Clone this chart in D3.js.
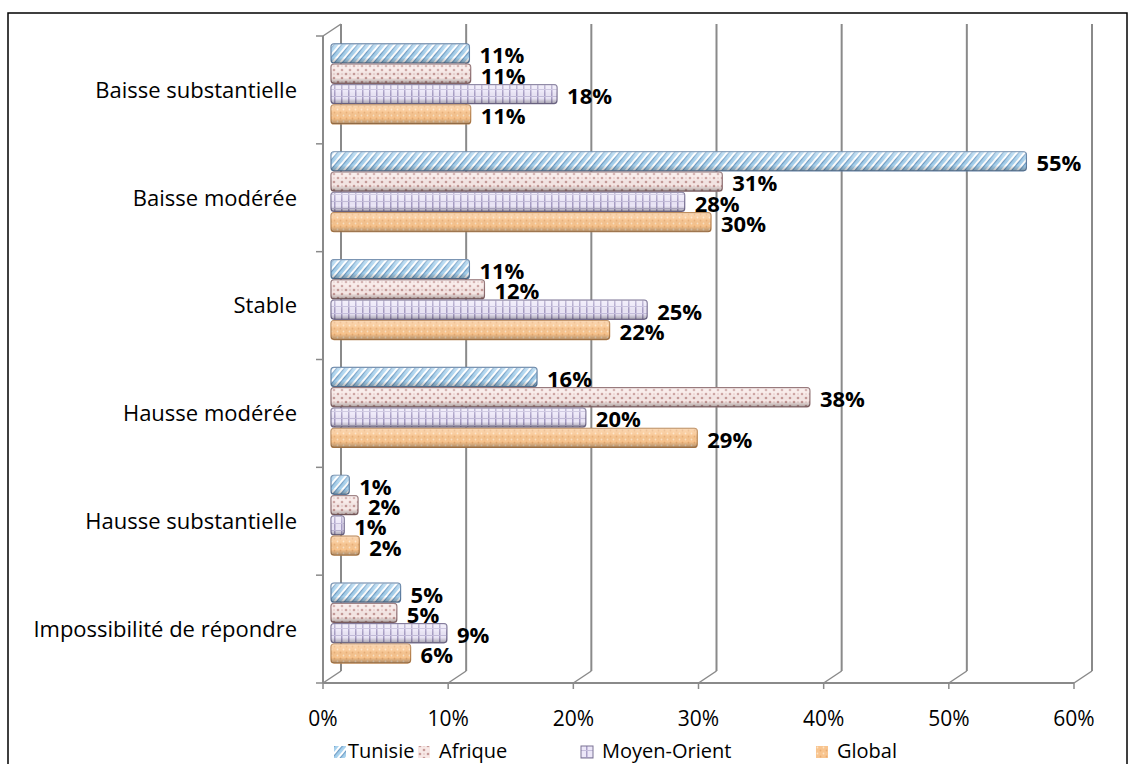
<!DOCTYPE html>
<html>
<head>
<meta charset="utf-8">
<script src="https://cdn.jsdelivr.net/npm/d3@7"></script>
<style>
  body { margin: 0; background: #fff; }
  svg { display: block; font-family: "Open Sans", sans-serif; }
</style>
</head>
<body>
<div id="chart"></div>
<script>
// donnees (en %)
var categories = ["Baisse substantielle", "Baisse modérée", "Stable", "Hausse modérée", "Hausse substantielle", "Impossibilité de répondre"]
var series = ["Tunisie", "Afrique", "Moyen-Orient", "Global"]
var tunisie = [10.9, 55.4, 10.9, 16.3, 1.3, 5.4]
var afrique = [11.0, 31.1, 12.1, 38.1, 2.0, 5.1]
var moyenOrient = [17.9, 28.1, 25.1, 20.2, 0.9, 9.1]
var global = [11.0, 30.2, 22.1, 29.1, 2.1, 6.2]
var ticks = [0, 10, 20, 30, 40, 50, 60]

var valeurs = [tunisie, afrique, moyenOrient, global]

var width = 1130, height = 764
var svg = d3.select("#chart").append("svg")
    .attr("width", width)
    .attr("height", height)

// cadre exterieur
svg.append("rect")
    .attr("x", 8).attr("y", 13)
    .attr("width", 1119).attr("height", 780)
    .attr("fill", "none").attr("stroke", "#000").attr("stroke-width", 1.5)

var x = d3.scaleLinear().domain([0, 60]).range([323, 1074])
var y = d3.scaleBand().domain(categories).range([36, 683])
var dx = 18, dy = -12   // profondeur 3D

var defs = svg.append("defs")

// motifs des series
var pT = defs.append("pattern").attr("id", "pat0").attr("patternUnits", "userSpaceOnUse")
    .attr("width", 6).attr("height", 6).attr("patternTransform", "rotate(40)")
pT.append("rect").attr("width", 6).attr("height", 6).attr("fill", "#a8d2ee")
pT.append("rect").attr("width", 2).attr("height", 6).attr("fill", "#ffffff")
pT.append("rect").attr("x", 2).attr("width", 1.2).attr("height", 6).attr("fill", "#6f9cc4")

var pA = defs.append("pattern").attr("id", "pat1").attr("patternUnits", "userSpaceOnUse")
    .attr("width", 8).attr("height", 8)
pA.append("rect").attr("width", 8).attr("height", 8).attr("fill", "#f7e8e6")
pA.append("circle").attr("cx", 2).attr("cy", 2).attr("r", 1.3).attr("fill", "#c79a98")
pA.append("circle").attr("cx", 6).attr("cy", 6).attr("r", 1.3).attr("fill", "#c79a98")
pA.append("circle").attr("cx", 6).attr("cy", 2).attr("r", 0.8).attr("fill", "#ddbbb9")

var pM = defs.append("pattern").attr("id", "pat2").attr("patternUnits", "userSpaceOnUse")
    .attr("width", 7).attr("height", 7)
pM.append("rect").attr("width", 7).attr("height", 7).attr("fill", "#ece7f8")
pM.append("rect").attr("x", 5).attr("width", 1.5).attr("height", 7).attr("fill", "#a89ec6")
pM.append("rect").attr("y", 5).attr("width", 7).attr("height", 1).attr("fill", "#c4bddb")

var pG = defs.append("pattern").attr("id", "pat3").attr("patternUnits", "userSpaceOnUse")
    .attr("width", 6).attr("height", 6)
pG.append("rect").attr("width", 6).attr("height", 6).attr("fill", "#f8c48e")
pG.append("circle").attr("cx", 1.5).attr("cy", 1.5).attr("r", 0.9).attr("fill", "#fde3c6")
pG.append("circle").attr("cx", 4.5).attr("cy", 4.5).attr("r", 0.9).attr("fill", "#e9ab70")

var contours = ["#5f7fa3", "#8e6d70", "#7a7294", "#b98450"]

// ombrage cylindre
var grad = defs.append("linearGradient").attr("id", "cyl")
    .attr("x1", 0).attr("y1", 0).attr("x2", 0).attr("y2", 1)
grad.append("stop").attr("offset", "0%").attr("stop-color", "#fff").attr("stop-opacity", 0.35)
grad.append("stop").attr("offset", "35%").attr("stop-color", "#fff").attr("stop-opacity", 0.1)
grad.append("stop").attr("offset", "70%").attr("stop-color", "#000").attr("stop-opacity", 0)
grad.append("stop").attr("offset", "100%").attr("stop-color", "#000").attr("stop-opacity", 0.3)

// murs et quadrillage
var gris = "#8a8a8a"
var yTop = y.range()[0], yBot = y.range()[1]
var grille = svg.append("g").attr("stroke", gris).attr("stroke-width", 2).attr("fill", "none")

grille.selectAll(".vg").data(ticks).join("line")
    .attr("x1", d => x(d) + dx).attr("x2", d => x(d) + dx)
    .attr("y1", yBot + dy).attr("y2", yTop + dy)
grille.selectAll(".dg").data(ticks).join("line")
    .attr("x1", d => x(d)).attr("x2", d => x(d) + dx)
    .attr("y1", yBot).attr("y2", yBot + dy)
    .attr("stroke-width", 1.5)
grille.append("line").attr("x1", x(0)).attr("x2", x(0)).attr("y1", yTop).attr("y2", yBot)
grille.append("line").attr("x1", x(0)).attr("x2", x(0) + dx).attr("y1", yTop).attr("y2", yTop + dy)
    .attr("stroke-width", 1.5)
grille.append("line").attr("x1", x(0)).attr("x2", x(60)).attr("y1", yBot).attr("y2", yBot)

// graduations
grille.selectAll(".tx").data(ticks).join("line")
    .attr("x1", d => x(d)).attr("x2", d => x(d))
    .attr("y1", yBot).attr("y2", yBot + 6).attr("stroke-width", 1.5)
grille.selectAll(".ty").data(y.domain().map(d => y(d)).concat([yBot])).join("line")
    .attr("x1", x(0) - 7).attr("x2", x(0))
    .attr("y1", d => d).attr("y2", d => d).attr("stroke-width", 1.5)

// barres
var ySub = d3.scaleBand().domain(d3.range(series.length)).range([-40, 40]).paddingInner(0.06)
var fmt = d3.format(".0%")

series.forEach(function (s, i) {
    var g = svg.append("g")
    var data = categories.map((c, j) => ({ cat: c, v: valeurs[i][j] }))
    var by = d => y(d.cat) + y.bandwidth() / 2 + dy / 2 + ySub(i)
    var bx0 = x(0) + dx / 2 - 1

    g.selectAll("rect.b").data(data).join("rect")
        .attr("x", bx0)
        .attr("y", by)
        .attr("width", d => x(d.v) - x(0) + 2)
        .attr("height", ySub.bandwidth())
        .attr("rx", 3)
        .attr("fill", "url(#pat" + i + ")")
        .attr("stroke", contours[i])
        .attr("stroke-width", 1.2)
    g.selectAll("rect.o").data(data).join("rect")
        .attr("x", bx0)
        .attr("y", by)
        .attr("width", d => x(d.v) - x(0) + 2)
        .attr("height", ySub.bandwidth())
        .attr("rx", 3)
        .attr("fill", "url(#cyl)")
    g.selectAll("text").data(data).join("text")
        .attr("x", d => bx0 + x(d.v) - x(0) + 12)
        .attr("y", d => by(d) + ySub.bandwidth() / 2 + 4)
        .attr("dominant-baseline", "middle")
        .attr("font-size", 22)
        .attr("font-weight", "bold")
        .attr("fill", "#000")
        .text(d => fmt(d.v / 100))
})

// libelles des categories
svg.append("g").selectAll("text").data(categories).join("text")
    .attr("x", 297)
    .attr("y", d => y(d) + y.bandwidth() / 2 + 2)
    .attr("text-anchor", "end")
    .attr("dominant-baseline", "middle")
    .attr("font-size", 22)
    .attr("fill", "#000")
    .text(d => d)

// libelles axe x
svg.append("g").selectAll("text").data(ticks).join("text")
    .attr("x", d => x(d))
    .attr("y", 720)
    .attr("text-anchor", "middle")
    .attr("dominant-baseline", "middle")
    .attr("font-size", 21)
    .attr("fill", "#000")
    .text(d => d + "%")

// legende
var legX = [334, 418, 581, 816]
var leg = svg.append("g").selectAll("g").data(series).join("g")
    .attr("transform", (d, i) => "translate(" + legX[i] + ",752)")
leg.append("rect")
    .attr("x", 0).attr("y", -6).attr("width", 12).attr("height", 12)
    .attr("fill", (d, i) => "url(#pat" + i + ")")
    .attr("stroke", (d, i) => i == 2 ? contours[i] : "none")
leg.append("text")
    .attr("x", (d, i) => i == 0 ? 14 : 21)
    .attr("y", 1)
    .attr("dominant-baseline", "middle")
    .attr("font-size", 20)
    .attr("fill", "#000")
    .text(d => d)
</script>
</body>
</html>
